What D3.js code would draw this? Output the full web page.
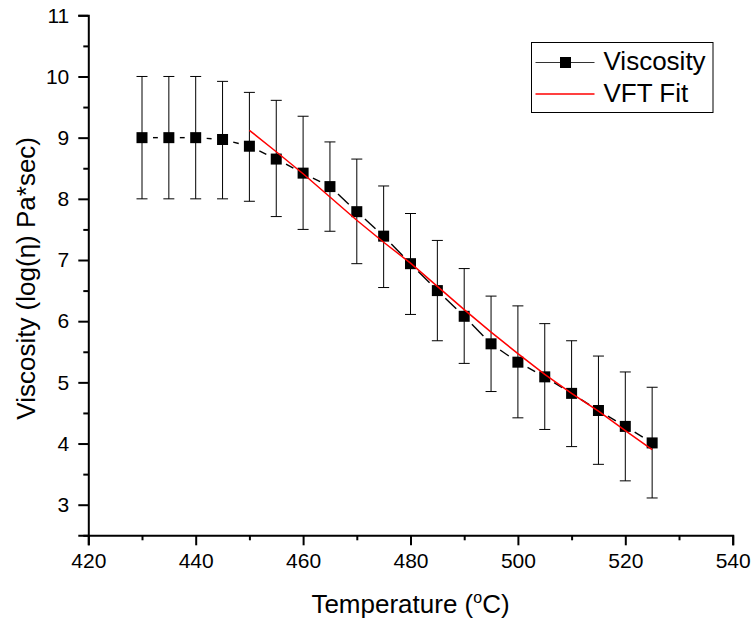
<!DOCTYPE html>
<html>
<head>
<meta charset="utf-8">
<script src="https://cdn.jsdelivr.net/npm/d3@7"></script>
<style>
  body { margin: 0; background: #fff; }
  text { font-family: "Liberation Sans", Arial, sans-serif; fill: #000; }
</style>
</head>
<body>
<svg id="chart" width="756" height="624"></svg>
<script>
  var temperatures = [430, 435, 440, 445, 450, 455, 460, 465, 470, 475,
                      480, 485, 490, 495, 500, 505, 510, 515, 520, 525];
  var viscosity = [9.00, 9.00, 9.00, 8.97, 8.86, 8.65, 8.42, 8.20, 7.79, 7.39,
                   6.94, 6.50, 6.08, 5.63, 5.33, 5.09, 4.82, 4.54, 4.28, 4.01];
  var errTop = [10.00, 10.00, 10.00, 9.92, 9.74, 9.61, 9.35, 8.93, 8.65, 8.21,
                7.76, 7.32, 6.86, 6.41, 6.25, 5.96, 5.68, 5.43, 5.17, 4.92];
  var errBottom = [8.00, 8.00, 8.00, 8.00, 7.96, 7.71, 7.50, 7.47, 6.94, 6.55,
                   6.11, 5.68, 5.31, 4.85, 4.42, 4.23, 3.95, 3.66, 3.39, 3.11];

  // VFT fit curve
  var fitTemps = [450, 455, 460, 465, 470, 475, 480, 485, 490, 495,
                  500, 505, 510, 515, 520, 525];
  var fitValues = [9.12, 8.77, 8.41, 8.03, 7.65, 7.29, 6.95, 6.57, 6.19, 5.82,
                   5.47, 5.13, 4.82, 4.53, 4.21, 3.90];

  var xTicks = [420, 440, 460, 480, 500, 520, 540];
  var xMinor = [430, 450, 470, 490, 510, 530];
  var yTicks = [3, 4, 5, 6, 7, 8, 9, 10, 11];
  var yMinor = [2.5, 3.5, 4.5, 5.5, 6.5, 7.5, 8.5, 9.5, 10.5];

  var legendLabels = ['Viscosity', 'VFT Fit'];

  const MARGIN = { TOP: 15.3, RIGHT: 23.3, BOTTOM: 88.7, LEFT: 88.3 };
  const W = 756, H = 624;
  const MARKER = 11;
  const CAP = 11;
  const GAP = 11;

  var svg = d3.select('#chart');

  var x = d3.scaleLinear()
    .domain([420, 540])
    .range([MARGIN.LEFT, W - MARGIN.RIGHT]);

  var y = d3.scaleLinear()
    .domain([2.5, 11])
    .range([H - MARGIN.BOTTOM, MARGIN.TOP]);

  var points = temperatures.map(function(t, i) {
    return { t: t, v: viscosity[i], hi: errTop[i], lo: errBottom[i] };
  });

  // axes
  svg.append('g')
    .attr('transform', 'translate(0,' + y(2.5) + ')')
    .call(d3.axisBottom(x).tickValues(xTicks).tickSize(10).tickPadding(8)
      .tickFormat(d3.format('d')));
  svg.append('g')
    .attr('transform', 'translate(0,' + y(2.5) + ')')
    .call(d3.axisBottom(x).tickValues(xMinor).tickSize(5).tickFormat(''))
    .select('.domain').remove();

  svg.append('g')
    .attr('transform', 'translate(' + x(420) + ',0)')
    .call(d3.axisLeft(y).tickValues(yTicks).tickSize(10).tickPadding(9)
      .tickFormat(d3.format('d')));
  svg.append('g')
    .attr('transform', 'translate(' + x(420) + ',0)')
    .call(d3.axisLeft(y).tickValues(yMinor).tickSize(5).tickFormat(''))
    .select('.domain').remove();

  svg.selectAll('.domain')
    .attr('stroke', '#000')
    .attr('stroke-width', 2);
  svg.selectAll('.tick line')
    .attr('stroke', '#000')
    .attr('stroke-width', 2);
  svg.selectAll('.tick text')
    .style('font-size', '21px')
    .style('font-family', '"Liberation Sans", Arial, sans-serif');

  // axis titles
  var xTitle = svg.append('text')
    .attr('x', (x(420) + x(540)) / 2)
    .attr('y', 613)
    .attr('text-anchor', 'middle')
    .style('font-size', '26px');
  xTitle.append('tspan').text('Temperature (');
  xTitle.append('tspan')
    .attr('dy', -10)
    .style('font-size', '16px')
    .text('o');
  xTitle.append('tspan')
    .attr('dy', 10)
    .text('C)');

  svg.append('text')
    .attr('transform', 'translate(35,' + y(6.7) + ') rotate(-90)')
    .attr('text-anchor', 'middle')
    .style('font-size', '26px')
    .text('Viscosity (log(\u03b7) Pa*sec)');

  // error bars
  var bars = svg.append('g').attr('class', 'errors')
    .selectAll('g')
    .data(points)
    .enter().append('g')
    .attr('stroke', '#000')
    .attr('stroke-width', 1);

  bars.append('line')
    .attr('x1', function(d) { return x(d.t); })
    .attr('x2', function(d) { return x(d.t); })
    .attr('y1', function(d) { return y(d.hi); })
    .attr('y2', function(d) { return y(d.lo); });
  bars.append('line')
    .attr('x1', function(d) { return x(d.t) - CAP / 2; })
    .attr('x2', function(d) { return x(d.t) + CAP / 2; })
    .attr('y1', function(d) { return y(d.hi); })
    .attr('y2', function(d) { return y(d.hi); });
  bars.append('line')
    .attr('x1', function(d) { return x(d.t) - CAP / 2; })
    .attr('x2', function(d) { return x(d.t) + CAP / 2; })
    .attr('y1', function(d) { return y(d.lo); })
    .attr('y2', function(d) { return y(d.lo); });

  // connecting line, with a gap around each symbol
  var segs = d3.pairs(points).map(function(p) {
    var x0 = x(p[0].t), y0 = y(p[0].v), x1 = x(p[1].t), y1 = y(p[1].v);
    var len = Math.hypot(x1 - x0, y1 - y0);
    var ux = (x1 - x0) / len, uy = (y1 - y0) / len;
    return { x0: x0 + ux * GAP, y0: y0 + uy * GAP, x1: x1 - ux * GAP, y1: y1 - uy * GAP };
  });
  svg.append('g')
    .selectAll('line')
    .data(segs)
    .enter().append('line')
    .attr('x1', function(d) { return d.x0; })
    .attr('y1', function(d) { return d.y0; })
    .attr('x2', function(d) { return d.x1; })
    .attr('y2', function(d) { return d.y1; })
    .attr('stroke', '#000')
    .attr('stroke-width', 1.4);

  // markers
  svg.append('g')
    .selectAll('rect')
    .data(points)
    .enter().append('rect')
    .attr('x', function(d) { return x(d.t) - MARKER / 2; })
    .attr('y', function(d) { return y(d.v) - MARKER / 2; })
    .attr('width', MARKER)
    .attr('height', MARKER)
    .attr('fill', '#000');

  // VFT fit
  var fitLine = d3.line()
    .x(function(d, i) { return x(fitTemps[i]); })
    .y(function(d) { return y(d); });
  svg.append('path')
    .datum(fitValues)
    .attr('d', fitLine)
    .attr('fill', 'none')
    .attr('stroke', '#ff0000')
    .attr('stroke-width', 1.5);

  // legend
  var legend = svg.append('g').attr('transform', 'translate(531.5,42.5)');
  legend.append('rect')
    .attr('width', 181.5)
    .attr('height', 70)
    .attr('fill', '#fff')
    .attr('stroke', '#000')
    .attr('stroke-width', 1);

  legend.append('line')
    .attr('x1', 4).attr('x2', 63)
    .attr('y1', 20).attr('y2', 20)
    .attr('stroke', '#333')
    .attr('stroke-width', 1.2);
  legend.append('rect')
    .attr('x', 34 - MARKER / 2)
    .attr('y', 20 - MARKER / 2)
    .attr('width', MARKER)
    .attr('height', MARKER)
    .attr('fill', '#000');
  legend.append('line')
    .attr('x1', 4).attr('x2', 63)
    .attr('y1', 51.5).attr('y2', 51.5)
    .attr('stroke', '#ff0000')
    .attr('stroke-width', 1.5);

  legend.selectAll('text.lab')
    .data(legendLabels)
    .enter().append('text')
    .attr('class', 'lab')
    .attr('x', 72)
    .attr('y', function(d, i) { return 27 + i * 32; })
    .style('font-size', '26px')
    .text(function(d) { return d; });
</script>
</body>
</html>
